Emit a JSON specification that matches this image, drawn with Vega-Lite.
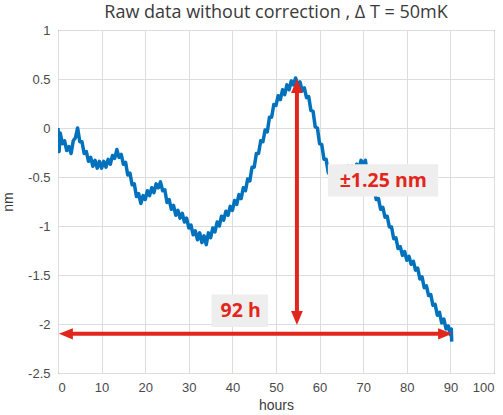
{
  "$schema": "https://vega.github.io/schema/vega-lite/v6.json",
  "width": 436,
  "height": 343,
  "autosize": {"type": "none"},
  "padding": {"left": 58, "top": 30, "right": 9, "bottom": 42},
  "background": "white",
  "title": {
    "text": "Raw data without correction , Δ T = 50mK",
    "font": "Open Sans",
    "fontSize": 18,
    "fontWeight": "normal",
    "color": "#3a3a3a",
    "offset": 2,
    "anchor": "middle"
  },
  "config": {
    "view": {"stroke": "#555555", "strokeWidth": 1},
    "axis": {
      "labelFont": "Liberation Sans",
      "labelFontSize": 13,
      "labelColor": "#4a4a4a",
      "titleFont": "Liberation Sans",
      "titleFontSize": 14,
      "titleFontWeight": "normal",
      "titleColor": "#3a3a3a",
      "gridColor": "#dddddd",
      "gridOpacity": 1,
      "domain": false,
      "ticks": false
    }
  },
  "layer": [
    {
      "data": {
        "values": [
          {"h": 0, "nm": 0.0}, {"h": 0.25, "nm": -0.24}, {"h": 0.5, "nm": -0.05}, {"h": 1, "nm": -0.16}, {"h": 1.5, "nm": -0.13},
          {"h": 2, "nm": -0.23}, {"h": 2.5, "nm": -0.19}, {"h": 3, "nm": -0.26}, {"h": 3.5, "nm": -0.13}, {"h": 4, "nm": -0.1},
          {"h": 4.5, "nm": 0.0}, {"h": 5, "nm": -0.14}, {"h": 5.5, "nm": -0.14}, {"h": 6, "nm": -0.26}, {"h": 6.5, "nm": -0.24},
          {"h": 7, "nm": -0.34}, {"h": 7.5, "nm": -0.3}, {"h": 8, "nm": -0.39}, {"h": 8.5, "nm": -0.33}, {"h": 9, "nm": -0.41},
          {"h": 9.5, "nm": -0.34}, {"h": 10, "nm": -0.41}, {"h": 10.5, "nm": -0.34}, {"h": 11, "nm": -0.4}, {"h": 11.5, "nm": -0.32},
          {"h": 12, "nm": -0.37}, {"h": 12.5, "nm": -0.28}, {"h": 13, "nm": -0.31}, {"h": 13.5, "nm": -0.22}, {"h": 14, "nm": -0.3},
          {"h": 14.5, "nm": -0.27}, {"h": 15, "nm": -0.37}, {"h": 15.5, "nm": -0.35}, {"h": 16, "nm": -0.48}, {"h": 16.5, "nm": -0.46},
          {"h": 17, "nm": -0.58}, {"h": 17.5, "nm": -0.57}, {"h": 18, "nm": -0.7}, {"h": 18.5, "nm": -0.67}, {"h": 19, "nm": -0.77},
          {"h": 19.5, "nm": -0.69}, {"h": 20, "nm": -0.73}, {"h": 20.5, "nm": -0.64}, {"h": 21, "nm": -0.69}, {"h": 21.5, "nm": -0.61},
          {"h": 22, "nm": -0.66}, {"h": 22.5, "nm": -0.57}, {"h": 23, "nm": -0.61}, {"h": 23.5, "nm": -0.55}, {"h": 24, "nm": -0.64},
          {"h": 24.5, "nm": -0.63}, {"h": 25, "nm": -0.76}, {"h": 25.5, "nm": -0.73}, {"h": 26, "nm": -0.83}, {"h": 26.5, "nm": -0.79},
          {"h": 27, "nm": -0.89}, {"h": 27.5, "nm": -0.84}, {"h": 28, "nm": -0.92}, {"h": 28.5, "nm": -0.87}, {"h": 29, "nm": -0.96},
          {"h": 29.5, "nm": -0.92}, {"h": 30, "nm": -1.02}, {"h": 30.5, "nm": -0.99}, {"h": 31, "nm": -1.09}, {"h": 31.5, "nm": -1.05},
          {"h": 32, "nm": -1.14}, {"h": 32.5, "nm": -1.07}, {"h": 33, "nm": -1.17}, {"h": 33.5, "nm": -1.1}, {"h": 34, "nm": -1.19},
          {"h": 34.5, "nm": -1.07}, {"h": 35, "nm": -1.12}, {"h": 35.5, "nm": -1.02}, {"h": 36, "nm": -1.06}, {"h": 36.5, "nm": -0.96},
          {"h": 37, "nm": -1.0}, {"h": 37.5, "nm": -0.9}, {"h": 38, "nm": -0.94}, {"h": 38.5, "nm": -0.85}, {"h": 39, "nm": -0.89},
          {"h": 39.5, "nm": -0.8}, {"h": 40, "nm": -0.84}, {"h": 40.5, "nm": -0.74}, {"h": 41, "nm": -0.78}, {"h": 41.5, "nm": -0.68},
          {"h": 42, "nm": -0.72}, {"h": 42.5, "nm": -0.61}, {"h": 43, "nm": -0.64}, {"h": 43.5, "nm": -0.52}, {"h": 44, "nm": -0.54},
          {"h": 44.5, "nm": -0.4}, {"h": 45, "nm": -0.4}, {"h": 45.5, "nm": -0.26}, {"h": 46, "nm": -0.26}, {"h": 46.5, "nm": -0.13},
          {"h": 47, "nm": -0.14}, {"h": 47.5, "nm": -0.02}, {"h": 48, "nm": -0.04}, {"h": 48.5, "nm": 0.11}, {"h": 49, "nm": 0.11},
          {"h": 49.5, "nm": 0.24}, {"h": 50, "nm": 0.23}, {"h": 50.5, "nm": 0.33}, {"h": 51, "nm": 0.29}, {"h": 51.5, "nm": 0.39},
          {"h": 52, "nm": 0.34}, {"h": 52.5, "nm": 0.44}, {"h": 53, "nm": 0.39}, {"h": 53.5, "nm": 0.48}, {"h": 54, "nm": 0.44},
          {"h": 54.5, "nm": 0.51}, {"h": 55, "nm": 0.44}, {"h": 55.5, "nm": 0.47}, {"h": 56, "nm": 0.38}, {"h": 56.5, "nm": 0.41},
          {"h": 57, "nm": 0.31}, {"h": 57.5, "nm": 0.32}, {"h": 58, "nm": 0.18}, {"h": 58.5, "nm": 0.17}, {"h": 59, "nm": 0.01},
          {"h": 59.5, "nm": 0.0}, {"h": 60, "nm": -0.16}, {"h": 60.5, "nm": -0.17}, {"h": 61, "nm": -0.32}, {"h": 61.5, "nm": -0.32},
          {"h": 62, "nm": -0.46}, {"h": 62.5, "nm": -0.41}, {"h": 63, "nm": -0.49}, {"h": 63.5, "nm": -0.42}, {"h": 64, "nm": -0.49},
          {"h": 64.5, "nm": -0.41}, {"h": 65, "nm": -0.48}, {"h": 65.5, "nm": -0.4}, {"h": 66, "nm": -0.47}, {"h": 66.5, "nm": -0.39},
          {"h": 67, "nm": -0.46}, {"h": 67.5, "nm": -0.39}, {"h": 68, "nm": -0.44}, {"h": 68.5, "nm": -0.37}, {"h": 69, "nm": -0.42},
          {"h": 69.5, "nm": -0.33}, {"h": 70, "nm": -0.37}, {"h": 70.5, "nm": -0.33}, {"h": 71, "nm": -0.48}, {"h": 71.5, "nm": -0.5},
          {"h": 72, "nm": -0.62}, {"h": 72.5, "nm": -0.62}, {"h": 73, "nm": -0.73}, {"h": 73.5, "nm": -0.72}, {"h": 74, "nm": -0.83},
          {"h": 74.5, "nm": -0.81}, {"h": 75, "nm": -0.91}, {"h": 75.5, "nm": -0.9}, {"h": 76, "nm": -1.01}, {"h": 76.5, "nm": -1.01},
          {"h": 77, "nm": -1.13}, {"h": 77.5, "nm": -1.12}, {"h": 78, "nm": -1.23}, {"h": 78.5, "nm": -1.21}, {"h": 79, "nm": -1.3},
          {"h": 79.5, "nm": -1.26}, {"h": 80, "nm": -1.35}, {"h": 80.5, "nm": -1.31}, {"h": 81, "nm": -1.39}, {"h": 81.5, "nm": -1.36},
          {"h": 82, "nm": -1.45}, {"h": 82.5, "nm": -1.43}, {"h": 83, "nm": -1.54}, {"h": 83.5, "nm": -1.52}, {"h": 84, "nm": -1.63},
          {"h": 84.5, "nm": -1.61}, {"h": 85, "nm": -1.71}, {"h": 85.5, "nm": -1.7}, {"h": 86, "nm": -1.81}, {"h": 86.5, "nm": -1.8},
          {"h": 87, "nm": -1.91}, {"h": 87.5, "nm": -1.88}, {"h": 88, "nm": -1.99}, {"h": 88.5, "nm": -1.95}, {"h": 89, "nm": -2.05},
          {"h": 89.5, "nm": -2.02}, {"h": 90, "nm": -2.11}, {"h": 90.2, "nm": -2.05}, {"h": 90.3, "nm": -2.18}
        ]
      },
      "mark": {"type": "line", "color": "#0072BD", "strokeWidth": 3.5, "strokeJoin": "round", "clip": true},
      "encoding": {
        "x": {
          "field": "h", "type": "quantitative",
          "scale": {"domain": [0, 100], "nice": false, "zero": false},
          "axis": {"title": "hours", "values": [0, 10, 20, 30, 40, 50, 60, 70, 80, 90, 100], "labelPadding": 8, "titlePadding": 4, "labelExpr": "replace(format(datum.value, ''), '\u2212', '-')"}
        },
        "y": {
          "field": "nm", "type": "quantitative",
          "scale": {"domain": [-2.5, 1], "nice": false, "zero": false},
          "axis": {"title": "nm", "values": [-2.5, -2, -1.5, -1, -0.5, 0, 0.5, 1], "labelPadding": 8, "titlePadding": 12, "labelExpr": "replace(format(datum.value, ''), '\u2212', '-')"}
        }
      }
    },
    {
      "data": {"values": [
        {"x1": 61.9, "x2": 87.2, "y1": -0.37, "y2": -0.7},
        {"x1": 35.2, "x2": 48.2, "y1": -1.7, "y2": -2.03}
      ]},
      "mark": {"type": "rect", "fill": "#eeeeee"},
      "encoding": {
        "x": {"field": "x1", "type": "quantitative"},
        "x2": {"field": "x2"},
        "y": {"field": "y1", "type": "quantitative"},
        "y2": {"field": "y2"}
      }
    },
    {
      "data": {"values": [
        {"x": 74.6, "y": -0.54, "label": "±1.25 nm"},
        {"x": 41.9, "y": -1.865, "label": "92 h"}
      ]},
      "mark": {"type": "text", "font": "Open Sans", "fontSize": 19.5, "fontWeight": "bold", "color": "#e3261b", "align": "center", "baseline": "middle"},
      "encoding": {
        "x": {"field": "x", "type": "quantitative"},
        "y": {"field": "y", "type": "quantitative"},
        "text": {"field": "label"}
      }
    },
    {
      "data": {"values": [
        {"x1": 54.8, "x2": 54.8, "y1": 0.4, "y2": -1.9},
        {"x1": 2.5, "x2": 88.0, "y1": -2.1, "y2": -2.1}
      ]},
      "mark": {"type": "rule", "color": "#e3261b", "strokeWidth": 4},
      "encoding": {
        "x": {"field": "x1", "type": "quantitative"},
        "x2": {"field": "x2"},
        "y": {"field": "y1", "type": "quantitative"},
        "y2": {"field": "y2"}
      }
    },
    {
      "data": {"values": [{"x": 54.8, "y": 0.5}]},
      "mark": {"type": "point", "shape": "M0,0L-0.42,1.0L0.42,1.0Z", "size": 784, "filled": true, "color": "#e3261b", "opacity": 1},
      "encoding": {"x": {"field": "x", "type": "quantitative"}, "y": {"field": "y", "type": "quantitative"}}
    },
    {
      "data": {"values": [{"x": 54.8, "y": -2.01}]},
      "mark": {"type": "point", "shape": "M0,0L-0.42,-1.0L0.42,-1.0Z", "size": 784, "filled": true, "color": "#e3261b", "opacity": 1},
      "encoding": {"x": {"field": "x", "type": "quantitative"}, "y": {"field": "y", "type": "quantitative"}}
    },
    {
      "data": {"values": [{"x": 0.2, "y": -2.1}]},
      "mark": {"type": "point", "shape": "M0,0L1.0,-0.4L1.0,0.4Z", "size": 784, "filled": true, "color": "#e3261b", "opacity": 1},
      "encoding": {"x": {"field": "x", "type": "quantitative"}, "y": {"field": "y", "type": "quantitative"}}
    },
    {
      "data": {"values": [{"x": 90.4, "y": -2.1}]},
      "mark": {"type": "point", "shape": "M0,0L-1.0,-0.4L-1.0,0.4Z", "size": 784, "filled": true, "color": "#e3261b", "opacity": 1},
      "encoding": {"x": {"field": "x", "type": "quantitative"}, "y": {"field": "y", "type": "quantitative"}}
    }
  ]
}
